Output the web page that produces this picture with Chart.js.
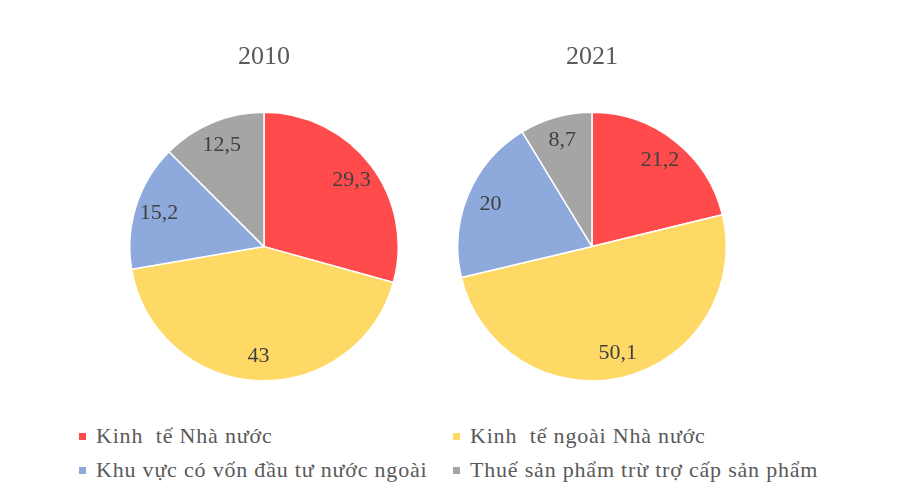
<!DOCTYPE html>
<html>
<head>
<meta charset="utf-8">
<script src="https://cdn.jsdelivr.net/npm/chart.js@4/dist/chart.umd.min.js"></script>
<style>
  body { margin: 0; background: #fff; width: 900px; height: 497px; position: relative; overflow: hidden; }
  .pie { position: absolute; top: 30px; width: 270px; height: 352px; }
  #pie-2010 { left: 129px; }
  #pie-2021 { left: 457px; }
  .legend-item { position: absolute; font-family: 'Liberation Serif', 'Times New Roman', serif; font-size: 22px; letter-spacing: 0.8px; color: #595959; line-height: 24px; white-space: pre; }
  .legend-item .box { position: absolute; left: -17px; top: 9px; width: 7px; height: 7px; }
</style>
</head>
<body>
<canvas id="pie-2010" class="pie" width="270" height="352"></canvas>
<canvas id="pie-2021" class="pie" width="270" height="352"></canvas>
<div id="legend"></div>
<script>
const LABELS = ['Kinh  tế Nhà nước', 'Kinh  tế ngoài Nhà nước', 'Khu vực có vốn đầu tư nước ngoài', 'Thuế sản phẩm trừ trợ cấp sản phẩm']
const COLORS = ['#ff4b4b', '#ffd966', '#8eaadc', '#a5a5a5']
const VALUES_2010 = [29.3, 43, 15.2, 12.5]
const VALUES_2021 = [21.2, 50.1, 20, 8.7]

// draws the value inside each slice, Excel style with decimal comma
const sliceLabels = {
  id: 'sliceLabels',
  afterDatasetsDraw(chart) {
    const ctx = chart.ctx
    const meta = chart.getDatasetMeta(0)
    const values = chart.data.datasets[0].data
    ctx.save()
    ctx.font = '22px "Liberation Serif", "Times New Roman", serif'
    ctx.fillStyle = '#404040'
    ctx.textAlign = 'center'
    ctx.textBaseline = 'middle'
    meta.data.forEach((arc, i) => {
      const a = (arc.startAngle + arc.endAngle) / 2
      const r = arc.outerRadius * 0.82
      ctx.fillText(String(values[i]).replace('.', ','), arc.x + Math.cos(a) * r, arc.y + Math.sin(a) * r)
    })
    ctx.restore()
  },
}

function makePie(canvasId, title, values) {
  return new Chart(document.getElementById(canvasId), {
    type: 'pie',
    data: {
      labels: LABELS,
      datasets: [{
        data: values,
        backgroundColor: COLORS,
        borderColor: '#ffffff',
        borderWidth: 1.5,
      }],
    },
    options: {
      responsive: false,
      animation: false,
      layout: { padding: 0 },
      plugins: {
        legend: { display: false },
        tooltip: { enabled: false },
        title: {
          display: true,
          text: title,
          color: '#595959',
          font: { family: '"Liberation Serif", "Times New Roman", serif', size: 26, weight: 'normal' },
          padding: { top: 12, bottom: 38 },
        },
      },
    },
    plugins: [sliceLabels],
  })
}

makePie('pie-2010', '2010', VALUES_2010)
makePie('pie-2021', '2021', VALUES_2021)

const LEGEND_POS = [[96, 424], [470, 424], [96, 458], [470, 458]]
document.getElementById('legend').innerHTML = LABELS.map((l, i) =>
  `<div class="legend-item" style="left:${LEGEND_POS[i][0]}px;top:${LEGEND_POS[i][1]}px"><span class="box" style="background:${COLORS[i]}"></span>${l}</div>`
).join('')
</script>
</body>
</html>
